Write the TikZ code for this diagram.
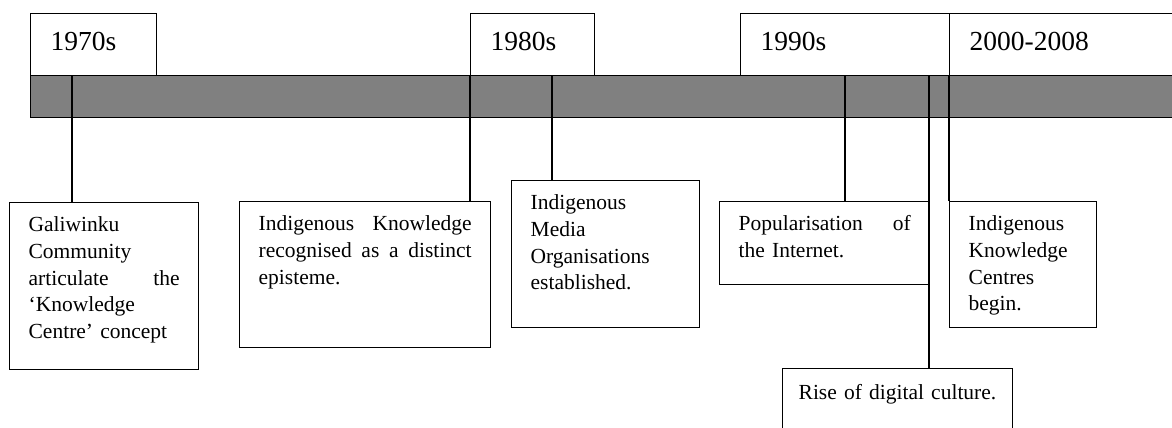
\documentclass[tikz,border=0pt]{standalone}
\usepackage{fontspec}
\setmainfont{Liberation Serif}
\newcommand{\lwidth}{1.3pt}
\newcommand{\evfont}{\fontsize{21.5}{26.7}\selectfont}
\newcommand{\yrfont}{\fontsize{27.5}{30}\selectfont}

\begin{document}
\begin{tikzpicture}[x=1pt,y=-1pt,line width=\lwidth]
        %\draw[help lines] (0,0) grid (1172,428);
        \tikzset{yearbox/.style = {draw, anchor=north west, align=left, inner xsep=20pt, inner ysep=0pt,
                text height=37pt, text depth=25pt, font=\yrfont}}
        \tikzset{eventbox/.style = {draw, anchor=north west, align=left, inner xsep=19pt, inner ysep=0pt,
                text height=29pt, font=\evfont}}
        \useasboundingbox (0,0) rectangle (1172,428);
        \clip (0,0) rectangle (1172,428);
        
        \node[draw, fill=black!50, anchor=north west, minimum width=1170pt, minimum height=42pt, inner sep=0pt] (bar) at (30,75) {};
        
        \node[yearbox, text width=86pt] (y70) at (30,13) {1970s};
        \node[yearbox, text width=84pt] (y80) at (470,13) {1980s};
        \node[yearbox, text width=169pt] (y90) at (740,13) {1990s};
        \node[yearbox, text width=210pt] (y00) at (949,13) {2000-2008};
        
        \node[eventbox, text width=151pt, text depth=138pt] (gali) at (9,202)
            {Galiwinku\\Community\\articulate\hfill the\\‘Knowledge\\Centre’ concept};
        \node[eventbox, text width=213pt, text depth=117pt] (ikrec) at (239,201)
            {Indigenous\hfill Knowledge\\recognised\hfill as\hfill a\hfill distinct\\episteme.};
        \node[eventbox, text width=150pt, text depth=118pt] (media) at (511,180)
            {Indigenous\\Media\\Organisations\\established.};
        \node[eventbox, text width=172pt, text depth=54pt] (popul) at (719,201)
            {Popularisation\hfill of\\the Internet.};
        \node[eventbox, text width=109pt, text depth=97pt] (ikc) at (949,201)
            {Indigenous\\Knowledge\\Centres\\begin.};
        \node[eventbox, inner xsep=16pt, text width=198pt, text height=31pt, text depth=70pt] (rise) at (782,368)
            {Rise of digital culture.};
        
        \coordinate (t70) at (72,75);
        \coordinate (t80a) at (470,75);
        \coordinate (t80b) at (552,75);
        \coordinate (t90a) at (845,75);
        \coordinate (t90b) at (929,75);
        \coordinate (t00) at (949,75);
        
        \foreach \tk/\ev in {t70/gali, t80a/ikrec, t80b/media, t90a/popul, t90b/rise, t00/ikc}
            \draw (\tk) -- (\tk |- \ev.north);
        
\end{tikzpicture}
\end{document}
